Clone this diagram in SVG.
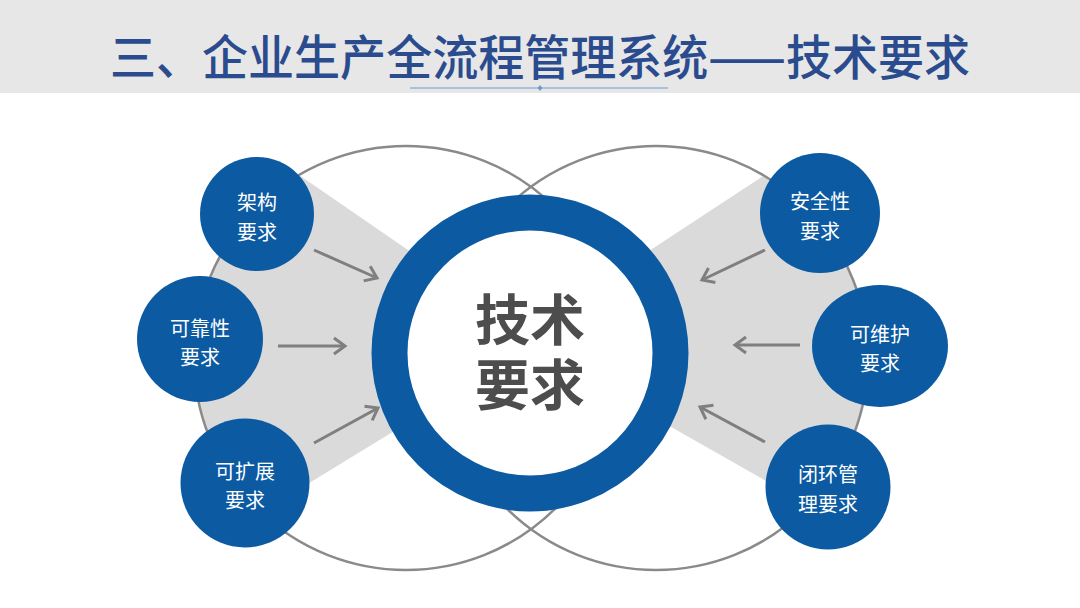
<svg xmlns="http://www.w3.org/2000/svg" width="1080" height="608" viewBox="0 0 1080 608">
  <style>
    .title { font-family: "Noto Sans CJK SC", "Liberation Sans", sans-serif; font-size: 48px; font-weight: 500; fill: #2a4b8d; }
    .node circle, .node ellipse { fill: #0b5aa2; }
    .nt { font-family: "Noto Sans CJK SC", "Liberation Sans", sans-serif; font-size: 20px; fill: #ffffff; text-anchor: middle; dominant-baseline: central; }
    .ct { font-family: "Noto Sans CJK SC", "Liberation Sans", sans-serif; font-size: 55px; font-weight: bold; fill: #4d4d4d; text-anchor: middle; }
    .big { fill: none; stroke: #8a8a8a; stroke-width: 2.5; }
    .fan { fill: #dadada; }
    .arrow { stroke: #7f7f7f; stroke-width: 3; fill: none; marker-end: url(#ah); }
  </style>
  <defs>
    <marker id="ah" markerUnits="userSpaceOnUse" markerWidth="16" markerHeight="20" refX="13" refY="10" orient="auto">
      <path d="M2,2 L13,10 L2,18" fill="none" stroke="#7f7f7f" stroke-width="3"/>
    </marker>
    <clipPath id="clipL"><circle cx="406" cy="358" r="212"/></clipPath>
    <clipPath id="clipR"><circle cx="656" cy="358" r="212"/></clipPath>
  </defs>

  <!-- header -->
  <rect x="0" y="0" width="1080" height="93" fill="#e7e7e7"/>
  <text class="title" x="110" y="75" textLength="860" lengthAdjust="spacingAndGlyphs">三、企业生产全流程管理系统——技术要求</text>
  <line x1="410" y1="88" x2="668" y2="88" stroke="#6d9bd1" stroke-width="1"/>
  <path d="M540,85 L542.5,88 L540,91 L537.5,88 Z" fill="#6d9bd1"/>

  <!-- gray fans -->
  <polygon class="fan" clip-path="url(#clipL)" points="190,100 440,272 440,403 190,556"/>
  <polygon class="fan" clip-path="url(#clipR)" points="870,106 620,270 620,398 870,540"/>

  <!-- big outline circles -->
  <circle class="big" cx="406" cy="358" r="212"/>
  <circle class="big" cx="656" cy="358" r="212"/>

  <!-- center -->
  <g id="center">
    <circle cx="530" cy="353" r="140.5" fill="#ffffff" stroke="#0b5aa2" stroke-width="36"/>
    <text class="ct" x="530" y="340">技术</text>
    <text class="ct" x="530" y="405">要求</text>
  </g>

  <!-- connectors -->
  <g id="connectors">
    <line class="arrow" x1="314" y1="250" x2="377" y2="278"/>
    <line class="arrow" x1="278" y1="346" x2="345" y2="346"/>
    <line class="arrow" x1="314" y1="443" x2="378" y2="408"/>
    <line class="arrow" x1="765" y1="250" x2="702" y2="280"/>
    <line class="arrow" x1="800" y1="345" x2="735" y2="345"/>
    <line class="arrow" x1="765" y1="442" x2="700" y2="407"/>
  </g>

  <!-- nodes -->
  <g id="n-jiagou" class="node">
    <circle cx="257" cy="214" r="57"/>
    <text class="nt" x="257" y="201">架构</text>
    <text class="nt" x="257" y="231">要求</text>
  </g>
  <g id="n-kekaoxing" class="node">
    <circle cx="200" cy="339" r="63"/>
    <text class="nt" x="200" y="327">可靠性</text>
    <text class="nt" x="200" y="356">要求</text>
  </g>
  <g id="n-kekuozhan" class="node">
    <circle cx="245" cy="483" r="64.5"/>
    <text class="nt" x="245" y="470">可扩展</text>
    <text class="nt" x="245" y="499">要求</text>
  </g>
  <g id="n-anquanxing" class="node">
    <circle cx="820" cy="213" r="60"/>
    <text class="nt" x="820" y="200">安全性</text>
    <text class="nt" x="820" y="230">要求</text>
  </g>
  <g id="n-keweihu" class="node">
    <ellipse cx="880" cy="346" rx="68" ry="61"/>
    <text class="nt" x="880" y="333">可维护</text>
    <text class="nt" x="880" y="362">要求</text>
  </g>
  <g id="n-bihuan" class="node">
    <circle cx="828" cy="487" r="62.5"/>
    <text class="nt" x="828" y="473">闭环管</text>
    <text class="nt" x="828" y="503">理要求</text>
  </g>
</svg>
